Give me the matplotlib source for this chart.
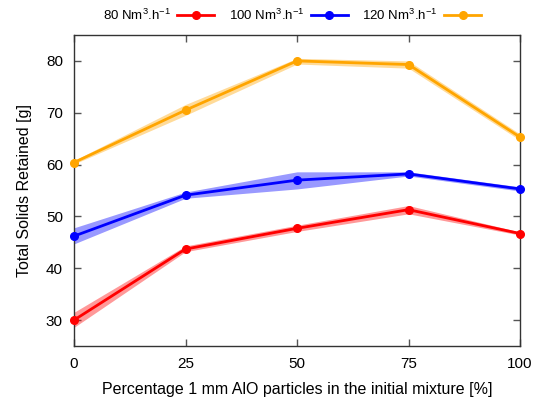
import matplotlib
matplotlib.use("Agg")
import matplotlib.pyplot as plt
import numpy as np

plt.rcParams['font.family'] = ['Liberation Sans', 'DejaVu Sans']
plt.rcParams['mathtext.fontset'] = 'custom'
plt.rcParams['mathtext.rm'] = 'Liberation Sans'
plt.rcParams['mathtext.it'] = 'Liberation Sans:italic'

pct = [0, 25, 50, 75, 100]
flow_labels = ['80 Nm$^{3}$.h$^{-1}$', '100 Nm$^{3}$.h$^{-1}$', '120 Nm$^{3}$.h$^{-1}$']
colors = ['#ff0000', '#0000ff', '#ffa500']

mean_80 = [30.0, 43.7, 47.7, 51.3, 46.7]
low_80 = [28.6, 43.2, 47.1, 50.5, 46.4]
high_80 = [31.5, 44.3, 48.3, 52.1, 47.0]

mean_100 = [46.2, 54.1, 57.0, 58.2, 55.3]
low_100 = [44.7, 53.5, 55.3, 57.8, 54.9]
high_100 = [47.8, 54.7, 58.6, 58.6, 55.7]

mean_120 = [60.4, 70.5, 80.0, 79.3, 65.3]
low_120 = [60.1, 69.5, 79.4, 78.6, 64.7]
high_120 = [60.8, 71.6, 80.5, 80.0, 65.9]

means = [mean_80, mean_100, mean_120]
lows = [low_80, low_100, low_120]
highs = [high_80, high_100, high_120]

fig = plt.figure(figsize=(5.36, 4.03), dpi=100)
ax = fig.add_axes([74/536, 1-346/403, (520-74)/536, (346-35)/403])

for m, lo, hi, c, lab in zip(means, lows, highs, colors, flow_labels):
    ax.fill_between(pct, lo, hi, color=c, alpha=0.4, lw=0, zorder=2)
    ax.plot(pct, m, color=c, lw=2.0, marker='o', ms=5.5, label=lab, zorder=3,
            clip_on=False)

ax.set_xlim(0, 100)
ax.set_ylim(25, 85)
ax.set_xticks(pct)
ax.set_yticks([30, 40, 50, 60, 70, 80])
ax.tick_params(direction='in', top=True, right=True, length=5, width=1,
               color='#555555', labelsize=11, pad=8)
for s in ax.spines.values():
    s.set_color('#333333')
    s.set_linewidth(1)

ax.set_xlabel('Percentage 1 mm AlO particles in the initial mixture [%]', fontsize=11.5, labelpad=8)
ax.set_ylabel('Total Solids Retained [g]', fontsize=11.5, labelpad=10)

leg = fig.legend(loc='center', bbox_to_anchor=(292/536, 1-15/403), ncol=3,
                 markerfirst=False, frameon=False, fontsize=9.5,
                 handlelength=2.8, columnspacing=1.1, handletextpad=0.5)

fig.savefig('out.png', dpi=100)
